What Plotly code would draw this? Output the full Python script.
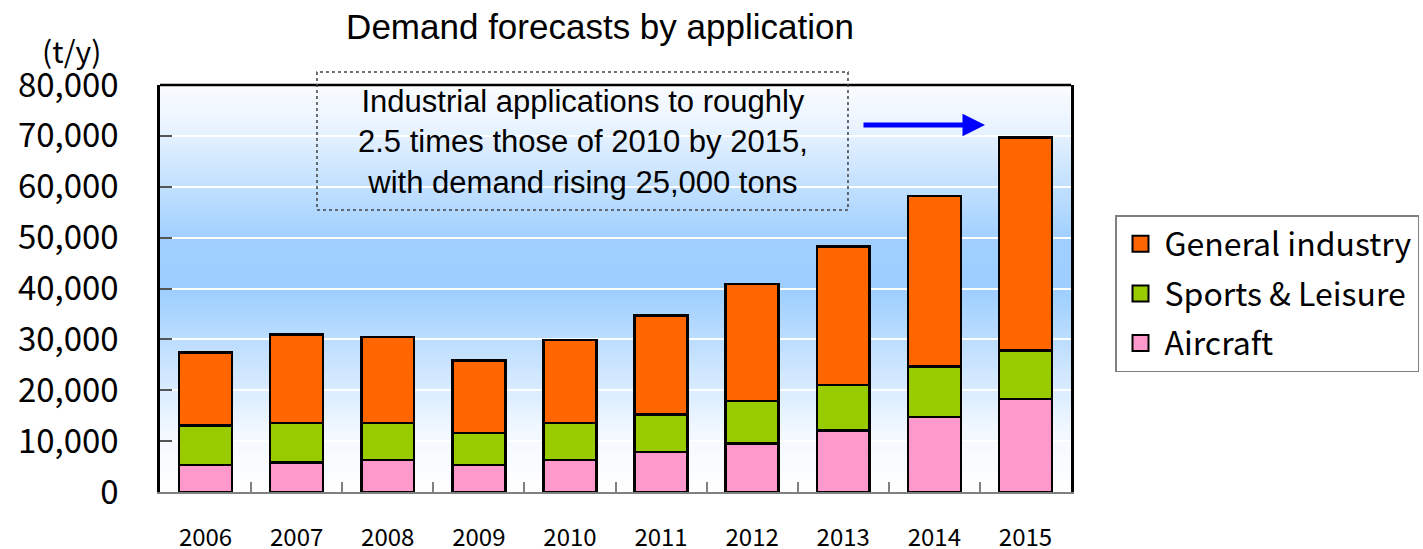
import plotly.graph_objects as go

years = ["2006", "2007", "2008", "2009", "2010", "2011", "2012", "2013", "2014", "2015"]
aircraft = [5300, 5800, 6300, 5300, 6300, 7900, 9500, 12100, 14700, 18300]
sports = [7800, 7800, 7300, 6300, 7300, 7300, 8400, 8900, 10000, 9500]
general = [14300, 17400, 16900, 14200, 16300, 19500, 23000, 27300, 33500, 41900]

series = [
    ("Aircraft", aircraft, "#FF99CC", 3),
    ("Sports & Leisure", sports, "#99CC00", 2),
    ("General industry", general, "#FF6600", 1),
]

JP = "Noto Sans CJK JP"
ARIAL = "Liberation Sans, Arial"

fig = go.Figure()
for name, vals, col, rank in series:
    fig.add_trace(go.Bar(
        x=years, y=vals, name=name, legendgroup=name, showlegend=False,
        marker=dict(color=col, line=dict(color="black", width=2.5)),
    ))
# legend entries with larger square swatches
for name, vals, col, rank in series:
    fig.add_trace(go.Scatter(
        x=[None], y=[None], mode="markers", name=name, legendgroup=name, legendrank=rank,
        marker=dict(symbol="square", size=22, color=col, line=dict(color="black", width=2)),
        hoverinfo="skip",
    ))

# background vertical gradient
stops = [(0.0, (255, 255, 255)), (0.15, (242, 248, 255)), (0.5, (157, 206, 255)),
         (0.62, (160, 207, 255)), (0.9, (234, 244, 255)), (1.0, (250, 252, 255))]


def interp(t):
    for (t0, c0), (t1, c1) in zip(stops[:-1], stops[1:]):
        if t0 <= t <= t1:
            f = (t - t0) / (t1 - t0) if t1 > t0 else 0
            return tuple(round(a + (b - a) * f) for a, b in zip(c0, c1))
    return stops[-1][1]


shapes = []
N = 100
for i in range(N):
    c = interp((i + 0.5) / N)
    shapes.append(dict(type="rect", xref="x domain", yref="y domain",
                       x0=0, x1=1, y0=i / N, y1=(i + 1) / N + 0.002,
                       fillcolor="rgb(%d,%d,%d)" % c, line=dict(width=0), layer="below"))
# top border
shapes.append(dict(type="line", xref="paper", yref="paper", x0=0, x1=1, y0=1, y1=1,
                   line=dict(color="black", width=2.5)))
# dotted annotation box
shapes.append(dict(type="rect", xref="paper", yref="paper",
                   x0=0.1723, x1=0.7552, y0=0.6929, y1=1.0319,
                   line=dict(color="#404040", width=1.5, dash="dot"),
                   fillcolor="rgba(0,0,0,0)"))

fig.update_layout(
    width=1423, height=549,
    margin=dict(l=160, r=352, t=85, b=57, autoexpand=False),
    paper_bgcolor="white", plot_bgcolor="rgba(0,0,0,0)",
    barmode="stack", bargap=0.42,
    title=dict(text="Demand forecasts by application", x=600 / 1423, xref="container",
               xanchor="center", y=1 - 27 / 549, yanchor="middle",
               font=dict(family=ARIAL, size=35, color="black")),
    shapes=shapes,
    legend=dict(x=(1115 - 160) / 911, xanchor="left", y=(492 - 215) / 407, yanchor="top",
                bgcolor="white", bordercolor="#808080", borderwidth=1.5,
                font=dict(family=JP, size=32, color="black"),
                traceorder="grouped", tracegroupgap=5, itemsizing="trace", itemwidth=38),
    annotations=[
        dict(text="(t/y)", xref="paper", yref="paper", x=(71 - 160) / 911, y=(492 - 50) / 407,
             xanchor="center", yanchor="middle",
             showarrow=False, font=dict(family=JP, size=30, color="black")),
        dict(text="Industrial applications to roughly<br>2.5 times those of 2010 by 2015,<br>with demand rising 25,000 tons",
             xref="paper", yref="paper", x=(583 - 160) / 911, y=(492 - 142) / 407,
             xanchor="center", yanchor="middle",
             showarrow=False, align="center", font=dict(family=ARIAL, size=31, color="black")),
        dict(text="", xref="paper", yref="paper", x=(985 - 160) / 911, y=(492 - 125) / 407,
             ax=-123, ay=0, showarrow=True, arrowhead=2, arrowsize=0.9, arrowwidth=5,
             arrowcolor="#0000FF"),
    ],
)

fig.update_xaxes(type="category", showgrid=False, showline=True, linecolor="#808080", linewidth=2,
                 ticks="inside", tickson="boundaries", ticklen=10, tickcolor="#808080", tickwidth=1.5,
                 ticklabelstandoff=23, tickfont=dict(family=JP, size=24, color="black"))
fig.update_yaxes(range=[0, 80000], dtick=10000, tickformat=",", showgrid=True, gridcolor="white",
                 gridwidth=1.5, showline=True, linecolor="black", linewidth=2.5, mirror=True,
                 ticks="inside", ticklen=12, tickcolor="#555555", tickwidth=1.5,
                 ticklabelstandoff=32, zeroline=False,
                 tickfont=dict(family=JP, size=33, color="black"))

fig.write_html("out.html")
